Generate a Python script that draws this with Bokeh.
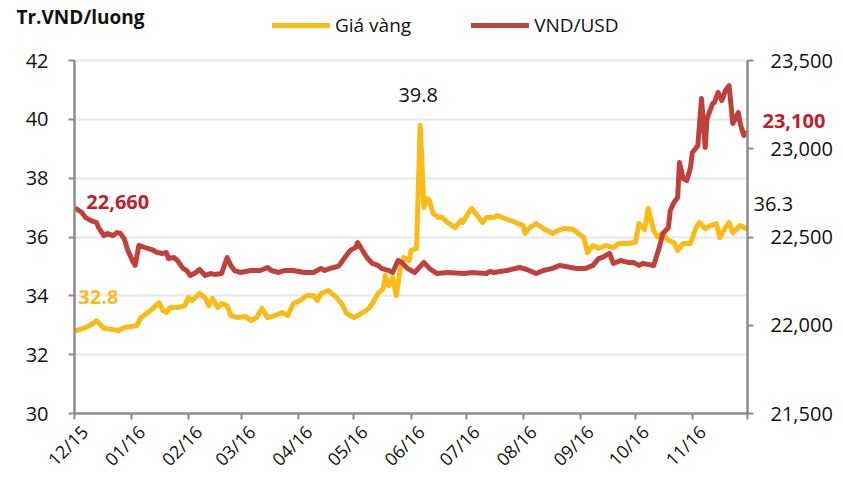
import pandas as pd
from math import pi
from bokeh.plotting import figure
from bokeh.models import (ColumnDataSource, Range1d, LinearAxis, FixedTicker,
                          NumeralTickFormatter, Legend, LegendItem, Label)
from bokeh.embed import file_html
from bokeh.resources import INLINE

# ---------------- data ----------------
gold_dates = [
    "2015-12-02", "2015-12-07", "2015-12-11", "2015-12-13", "2015-12-14", "2015-12-17",
    "2015-12-21", "2015-12-25", "2015-12-28", "2016-01-01", "2016-01-04", "2016-01-06",
    "2016-01-10", "2016-01-13", "2016-01-16", "2016-01-18", "2016-01-20", "2016-01-22",
    "2016-01-26", "2016-01-30", "2016-02-01", "2016-02-03", "2016-02-07", "2016-02-10",
    "2016-02-12", "2016-02-14", "2016-02-17", "2016-02-19", "2016-02-22", "2016-02-24",
    "2016-02-28", "2016-03-03", "2016-03-06", "2016-03-09", "2016-03-12", "2016-03-15",
    "2016-03-19", "2016-03-23", "2016-03-26", "2016-03-29", "2016-04-02", "2016-04-05",
    "2016-04-09", "2016-04-11", "2016-04-13", "2016-04-17", "2016-04-19", "2016-04-22",
    "2016-04-25", "2016-04-27", "2016-05-01", "2016-05-05", "2016-05-09", "2016-05-11",
    "2016-05-14", "2016-05-17", "2016-05-18", "2016-05-20", "2016-05-22", "2016-05-24",
    "2016-05-26", "2016-05-28", "2016-05-31", "2016-06-01", "2016-06-04", "2016-06-06",
    "2016-06-08", "2016-06-10", "2016-06-11", "2016-06-13", "2016-06-16", "2016-06-18",
    "2016-06-21", "2016-06-25", "2016-06-28", "2016-06-29", "2016-07-02", "2016-07-04",
    "2016-07-07", "2016-07-10", "2016-07-12", "2016-07-16", "2016-07-18", "2016-07-22",
    "2016-07-25", "2016-07-28", "2016-08-01", "2016-08-02", "2016-08-04", "2016-08-08",
    "2016-08-12", "2016-08-17", "2016-08-20", "2016-08-23", "2016-08-28", "2016-08-31",
    "2016-09-03", "2016-09-05", "2016-09-08", "2016-09-11", "2016-09-15", "2016-09-19",
    "2016-09-22", "2016-09-27", "2016-10-01", "2016-10-03", "2016-10-06", "2016-10-08",
    "2016-10-11", "2016-10-13", "2016-10-16", "2016-10-19", "2016-10-22", "2016-10-24",
    "2016-10-27", "2016-10-31", "2016-11-03", "2016-11-05", "2016-11-08", "2016-11-11",
    "2016-11-14", "2016-11-16", "2016-11-19", "2016-11-21", "2016-11-23", "2016-11-26",
    "2016-11-27", "2016-11-30",
]
gold_vals = [
    32.82, 32.92, 33.06, 33.16, 33.09, 32.89,
    32.86, 32.82, 32.92, 32.96, 32.99, 33.26,
    33.43, 33.60, 33.77, 33.50, 33.43, 33.60,
    33.60, 33.67, 33.94, 33.84, 34.08, 33.94,
    33.67, 33.91, 33.60, 33.74, 33.67, 33.33,
    33.26, 33.30, 33.16, 33.26, 33.57, 33.26,
    33.33, 33.43, 33.33, 33.74, 33.85, 34.00,
    34.01, 33.84, 34.08, 34.18, 34.08, 33.91,
    33.67, 33.40, 33.26, 33.40, 33.57, 33.74,
    34.08, 34.25, 34.69, 34.35, 34.62, 34.01,
    34.86, 35.30, 35.20, 35.54, 35.61, 39.80,
    37.00, 37.31, 37.24, 36.80, 36.66, 36.66,
    36.49, 36.32, 36.56, 36.49, 36.80, 36.97,
    36.73, 36.49, 36.66, 36.66, 36.73, 36.63,
    36.56, 36.49, 36.39, 36.12, 36.29, 36.46,
    36.29, 36.12, 36.22, 36.29, 36.26, 36.12,
    35.98, 35.47, 35.71, 35.61, 35.71, 35.64,
    35.78, 35.78, 35.81, 36.46, 36.25, 36.97,
    36.22, 36.00, 36.12, 35.88, 35.81, 35.54,
    35.78, 35.78, 36.32, 36.49, 36.29, 36.39,
    36.46, 35.98, 36.32, 36.49, 36.15, 36.32,
    36.39, 36.29,
]

usd_dates = [
    "2015-12-02", "2015-12-05", "2015-12-07", "2015-12-10", "2015-12-13", "2015-12-14",
    "2015-12-17", "2015-12-19", "2015-12-22", "2015-12-24", "2015-12-26", "2015-12-28",
    "2015-12-30", "2016-01-02", "2016-01-03", "2016-01-05", "2016-01-08", "2016-01-12",
    "2016-01-15", "2016-01-18", "2016-01-20", "2016-01-21", "2016-01-24", "2016-01-26",
    "2016-01-29", "2016-01-31", "2016-02-02", "2016-02-05", "2016-02-07", "2016-02-10",
    "2016-02-13", "2016-02-15", "2016-02-19", "2016-02-22", "2016-02-24", "2016-02-26",
    "2016-02-29", "2016-03-06", "2016-03-11", "2016-03-15", "2016-03-17", "2016-03-21",
    "2016-03-24", "2016-03-29", "2016-04-04", "2016-04-09", "2016-04-13", "2016-04-15",
    "2016-04-18", "2016-04-22", "2016-04-23", "2016-04-26", "2016-04-29", "2016-05-02",
    "2016-05-03", "2016-05-05", "2016-05-08", "2016-05-11", "2016-05-14", "2016-05-16",
    "2016-05-20", "2016-05-22", "2016-05-25", "2016-05-27", "2016-05-30", "2016-06-03",
    "2016-06-08", "2016-06-11", "2016-06-15", "2016-06-21", "2016-06-30", "2016-07-04",
    "2016-07-12", "2016-07-14", "2016-07-16", "2016-07-23", "2016-07-30", "2016-08-03",
    "2016-08-08", "2016-08-12", "2016-08-17", "2016-08-21", "2016-08-27", "2016-08-30",
    "2016-09-04", "2016-09-08", "2016-09-11", "2016-09-13", "2016-09-17", "2016-09-19",
    "2016-09-23", "2016-09-27", "2016-09-30", "2016-10-03", "2016-10-05", "2016-10-11",
    "2016-10-14", "2016-10-16", "2016-10-19", "2016-10-20", "2016-10-22", "2016-10-24",
    "2016-10-25", "2016-10-27", "2016-10-29", "2016-10-31", "2016-11-01", "2016-11-04",
    "2016-11-06", "2016-11-08", "2016-11-09", "2016-11-12", "2016-11-13", "2016-11-15",
    "2016-11-17", "2016-11-19", "2016-11-21", "2016-11-23", "2016-11-26", "2016-11-27",
    "2016-11-29", "2016-12-01",
]
usd_vals = [
    22660, 22639, 22610, 22593, 22582, 22554,
    22508, 22520, 22508, 22525, 22520, 22491,
    22424, 22356, 22339, 22452, 22441, 22429,
    22412, 22407, 22412, 22378, 22384, 22367,
    22322, 22310, 22282, 22299, 22316, 22282,
    22293, 22288, 22293, 22384, 22339, 22310,
    22299, 22310, 22310, 22327, 22310, 22299,
    22310, 22310, 22299, 22299, 22322, 22310,
    22322, 22333, 22339, 22384, 22424, 22441,
    22469, 22435, 22384, 22350, 22339, 22322,
    22310, 22299, 22367, 22356, 22322, 22299,
    22356, 22322, 22293, 22299, 22293, 22299,
    22293, 22305, 22299, 22310, 22327, 22316,
    22293, 22310, 22322, 22339, 22327, 22322,
    22322, 22339, 22378, 22384, 22407, 22350,
    22367, 22356, 22356, 22339, 22350, 22339,
    22441, 22520, 22554, 22650, 22696, 22724,
    22922, 22831, 22820, 22894, 22979, 23018,
    23285, 23007, 23171, 23256, 23262, 23319,
    23273, 23330, 23358, 23143, 23205, 23143,
    23075, 23092,
]

tick_dates = ["2015-12-01", "2016-01-01", "2016-02-01", "2016-03-01", "2016-04-01",
              "2016-05-01", "2016-06-01", "2016-07-01", "2016-08-01", "2016-09-01",
              "2016-10-01", "2016-11-01", "2016-12-01"]
tick_labels = ["12/15", "01/16", "02/16", "03/16", "04/16", "05/16", "06/16",
               "07/16", "08/16", "09/16", "10/16", "11/16", ""]
left_ticks = [30, 32, 34, 36, 38, 40, 42]
right_ticks = [21500, 22000, 22500, 23000, 23500]

series_names = ["Giá vàng", "VND/USD"]
axis_title = "Tr.VND/luong"
lbl_gold_first = "32.8"
lbl_gold_peak = "39.8"
lbl_gold_last = "36.3"
lbl_usd_first = "22,660"
lbl_usd_last = "23,100"

# ---------------- helpers / style ----------------
def ms(d):
    return int(pd.Timestamp(d).value // 10**6)

GOLD = "#FBBB16"
RED = "#C0403C"
RED_TXT = "#C0202E"
AX = "#8C8C8C"
TXT = "#111111"
FONT = "Open Sans"

W, H = 843, 482
FL, FR, PT, FB = 74, 747, 60, 413     # plot-area edges in page pixels (frame runs up to y=0)
area_h = FB - PT
left_span = left_ticks[-1] - left_ticks[0]
right_span = right_ticks[-1] - right_ticks[0]
gold_px = left_span / area_h          # value units per pixel
usd_px = right_span / area_h
x0, x1 = ms(tick_dates[0]), ms(tick_dates[-1])
x_px = (x1 - x0) / (FR - FL)          # ms per pixel

# estimated text widths used to stack the label-only axes
W_42, W_363, W_23100 = 23, 43, 66

gold_src = ColumnDataSource(dict(x=[ms(d) for d in gold_dates], y=gold_vals))
usd_src = ColumnDataSource(dict(x=[ms(d) for d in usd_dates], y=usd_vals))

p = figure(width=W, height=H,
           x_range=Range1d(x0, x1),
           y_range=Range1d(left_ticks[0], left_ticks[-1] + PT * gold_px),
           output_backend="svg", toolbar_location=None,
           min_border_left=FL, min_border_right=W - FR,
           min_border_top=0, min_border_bottom=H - FB)
p.extra_y_ranges = {"usd": Range1d(right_ticks[0], right_ticks[-1] + PT * usd_px)}
p.outline_line_color = None
p.background_fill_color = "white"
p.border_fill_color = "white"

p.xgrid.visible = False
p.ygrid.grid_line_color = "#E8E8E8"
p.ygrid.grid_line_width = 2


def style_axis(a, size="20px"):
    a.minor_tick_line_color = None
    a.major_tick_in = 0
    a.major_tick_out = 6
    a.axis_line_color = AX
    a.axis_line_width = 2.5
    a.major_tick_line_color = AX
    a.major_tick_line_width = 2
    a.major_label_text_font = FONT
    a.major_label_text_font_size = size
    a.major_label_text_color = TXT


def label_only(a, size="20px"):
    a.axis_line_color = None
    a.major_tick_line_color = None
    a.minor_tick_line_color = None
    a.major_tick_out = 0
    a.major_tick_in = 0
    a.minor_tick_out = 0
    a.minor_tick_in = 0
    a.major_label_text_font = FONT
    a.major_label_text_font_size = size
    a.major_label_text_color = TXT


# x axis: line + month ticks
month_ticks = [ms(d) for d in tick_dates]
xa = p.xaxis[0]
xa.ticker = FixedTicker(ticks=month_ticks)
xa.major_label_overrides = {t: "" for t in month_ticks}
style_axis(xa, "18px")
xa.major_label_standoff = 0

# x labels, set slightly right of their ticks as in the reference
lab_ticks = [t + 10 * x_px for t, s in zip(month_ticks, tick_labels) if s]
xl = LinearAxis(ticker=FixedTicker(ticks=lab_ticks),
                major_label_overrides={t: s for t, s in
                                       zip(lab_ticks, [s for s in tick_labels if s])})
label_only(xl, "18px")
xl.major_label_orientation = pi / 4
xl.major_label_standoff = 9
p.add_layout(xl, "below")

# left axis
ya = p.yaxis[0]
ya.ticker = FixedTicker(ticks=left_ticks)
ya.bounds = (left_ticks[0], left_ticks[-1])
style_axis(ya)
ya.major_label_standoff = 20

# unit title above the left axis (label-only axis, outer)
t_title = left_ticks[-1] + (PT - 16) * gold_px
ttl = LinearAxis(ticker=FixedTicker(ticks=[t_title]),
                 major_label_overrides={t_title: axis_title})
label_only(ttl, "19px")
ttl.major_label_text_font_style = "bold"
ttl.major_label_standoff = (FL - (6 + 20 + W_42)) - 147
p.add_layout(ttl, "left")

# right side: 1) line + ticks
r_line = LinearAxis(y_range_name="usd", ticker=FixedTicker(ticks=right_ticks),
                    major_label_overrides={t: "" for t in right_ticks},
                    bounds=(right_ticks[0], right_ticks[-1]))
style_axis(r_line)
r_line.major_label_standoff = 0
p.add_layout(r_line, "right")

# 2) end label of the gold series
t_gold = gold_vals[-1] + 24 * gold_px
ann_b = LinearAxis(ticker=FixedTicker(ticks=[t_gold]),
                   major_label_overrides={t_gold: lbl_gold_last})
label_only(ann_b)
ann_b.major_label_standoff = 0
p.add_layout(ann_b, "right")

# 3) end label of the USD series
t_usd = usd_vals[-1] + 12 * usd_px
ann_a = LinearAxis(y_range_name="usd", ticker=FixedTicker(ticks=[t_usd]),
                   major_label_overrides={t_usd: lbl_usd_last})
label_only(ann_a)
ann_a.major_label_text_font_style = "bold"
ann_a.major_label_text_color = RED_TXT
ann_a.major_label_standoff = 762 - (FR + 6 + W_363)
p.add_layout(ann_a, "right")

# 4) right tick numbers
r_num = LinearAxis(y_range_name="usd", ticker=FixedTicker(ticks=right_ticks),
                   formatter=NumeralTickFormatter(format="0,0"))
label_only(r_num)
r_num.major_label_standoff = 770 - (762 + W_23100)
p.add_layout(r_num, "right")

# lines
r_gold = p.line("x", "y", source=gold_src, line_color=GOLD, line_width=5,
                line_join="round", line_cap="round")
r_usd = p.line("x", "y", source=usd_src, line_color=RED, line_width=5,
               line_join="round", line_cap="round", y_range_name="usd")

# legend inside the (tall) frame, above the plot area
leg = Legend(items=[LegendItem(label=series_names[0], renderers=[r_gold]),
                    LegendItem(label=series_names[1], renderers=[r_usd])],
             orientation="horizontal", location=(272 - FL, FB - 38),
             glyph_width=58, glyph_height=20, label_height=20,
             label_standoff=5, spacing=60, padding=0, margin=0,
             border_line_color=None, background_fill_alpha=0,
             label_text_font=FONT, label_text_font_size="19px",
             label_text_color=TXT)
p.add_layout(leg)

# value labels inside the plot area
gx = gold_src.data["x"]
ux = usd_src.data["x"]
imax = gold_vals.index(max(gold_vals))
p.add_layout(Label(x=gx[0], y=gold_vals[0], text=lbl_gold_first, x_offset=2, y_offset=34,
                   text_font=FONT, text_font_size="20px", text_font_style="bold",
                   text_color=GOLD, text_baseline="middle"))
p.add_layout(Label(x=gx[imax], y=gold_vals[imax], text=lbl_gold_peak, x_offset=-2, y_offset=30,
                   text_font=FONT, text_font_size="20px", text_color=TXT,
                   text_align="center", text_baseline="middle"))
p.add_layout(Label(x=ux[0], y=usd_vals[0], y_range_name="usd", text=lbl_usd_first,
                   x_offset=10, y_offset=7,
                   text_font=FONT, text_font_size="20px", text_font_style="bold",
                   text_color=RED_TXT, text_baseline="middle"))

open("out.html", "w").write(file_html(p, INLINE))
